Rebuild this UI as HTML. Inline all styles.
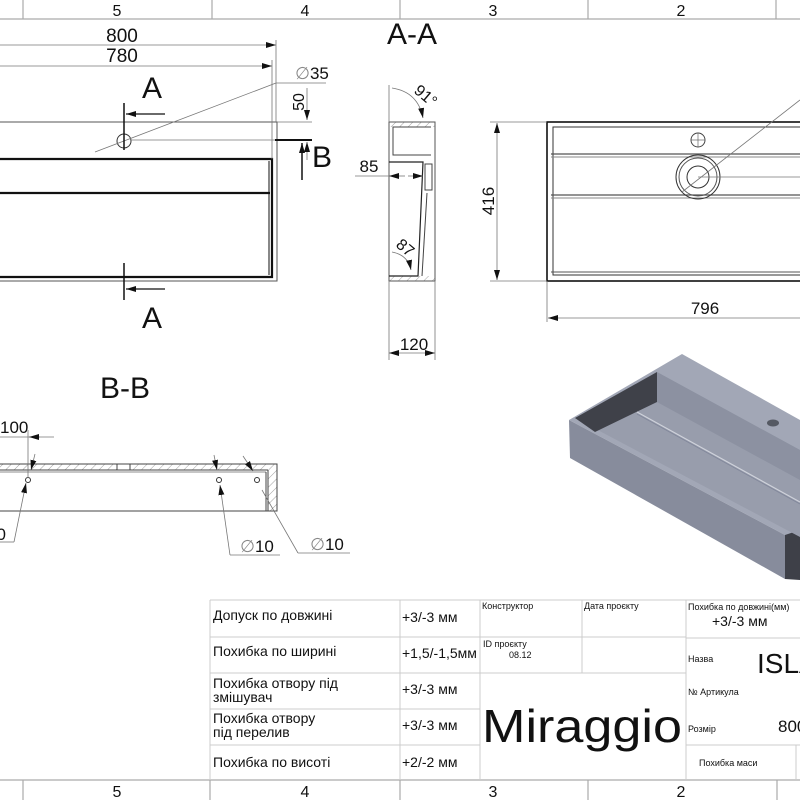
<!DOCTYPE html>
<html><head><meta charset="utf-8"><style>
html,body{margin:0;padding:0;background:#fff;}
svg{display:block;}
text{font-family:"Liberation Sans",sans-serif;fill:#111;}
.t{font-family:"Liberation Sans Narrow","Liberation Sans",sans-serif;}
</style></head><body>
<svg width="800" height="800" viewBox="0 0 800 800" xmlns="http://www.w3.org/2000/svg">
<defs>
<pattern id="h" width="6" height="6" patternUnits="userSpaceOnUse" patternTransform="rotate(45)">
<line x1="0" y1="0" x2="0" y2="6" stroke="#777" stroke-width="0.7"/></pattern>
<marker id="ar" markerWidth="10" markerHeight="6" refX="10" refY="3" orient="auto" markerUnits="userSpaceOnUse"><path d="M0,0 L10,3 L0,6 z" fill="#111"/></marker>
</defs>
<g stroke="#aaa" stroke-width="1.2" fill="none">
<line x1="0" y1="19" x2="800" y2="19"/>
<line x1="23" y1="0" x2="23" y2="19"/><line x1="212" y1="0" x2="212" y2="19"/>
<line x1="400" y1="0" x2="400" y2="19"/><line x1="588" y1="0" x2="588" y2="19"/><line x1="776" y1="0" x2="776" y2="19"/>
<line x1="0" y1="780" x2="800" y2="780"/>
<line x1="23" y1="780" x2="23" y2="800"/><line x1="210" y1="780" x2="210" y2="800"/>
<line x1="400" y1="780" x2="400" y2="800"/><line x1="588" y1="780" x2="588" y2="800"/><line x1="777" y1="780" x2="777" y2="800"/>
</g>
<g font-size="16" text-anchor="middle">
<text x="117" y="16">5</text><text x="305" y="16">4</text><text x="493" y="16">3</text><text x="681" y="16">2</text>
<text x="117" y="797">5</text><text x="305" y="797">4</text><text x="493" y="797">3</text><text x="681" y="797">2</text>
</g>

<g fill="none">
<rect x="-2" y="122" width="279" height="159" stroke="#555" stroke-width="1"/>
<path d="M0,159 H272 V277 H0" stroke="#111" stroke-width="2.2"/>
<line x1="0" y1="193" x2="270" y2="193" stroke="#111" stroke-width="2.2"/>
<line x1="269" y1="161" x2="269" y2="275" stroke="#111" stroke-width="1"/>
<circle cx="124" cy="141" r="7" stroke="#333" stroke-width="1"/>
<g stroke="#777" stroke-width="0.8">
<line x1="0" y1="45" x2="276" y2="45" marker-end="url(#ar)"/>
<line x1="0" y1="66" x2="272" y2="66" marker-end="url(#ar)"/>
<line x1="276" y1="40" x2="276" y2="122"/><line x1="272" y1="60" x2="272" y2="159"/>
<line x1="276" y1="83" x2="326" y2="83"/>
<line x1="276" y1="83" x2="95" y2="152"/>
<line x1="277" y1="122" x2="312" y2="122"/><line x1="131" y1="140" x2="277" y2="140"/>
<line x1="307" y1="88" x2="307" y2="120" marker-end="url(#ar)"/>
<line x1="307" y1="160" x2="307" y2="142" marker-end="url(#ar)"/>
</g>
<line x1="275" y1="140" x2="312" y2="140" stroke="#111" stroke-width="2"/>
<line x1="302" y1="180" x2="302" y2="143" stroke="#111" stroke-width="1.5" marker-end="url(#ar)"/>
<line x1="124" y1="103" x2="124" y2="150" stroke="#111" stroke-width="1.5"/>
<line x1="165" y1="114" x2="126" y2="114" stroke="#111" stroke-width="1.2" marker-end="url(#ar)"/>
<line x1="124" y1="263" x2="124" y2="300" stroke="#111" stroke-width="1.5"/>
<line x1="165" y1="289" x2="126" y2="289" stroke="#111" stroke-width="1.2" marker-end="url(#ar)"/>
</g>
<g font-size="19" text-anchor="middle">
<text x="122" y="42">800</text><text x="122" y="62">780</text>
<text x="312" y="79" font-size="17"><tspan fill="#888">∅</tspan>35</text>
<text x="0" y="0" font-size="16" transform="translate(304,102) rotate(-90)">50</text>
</g>
<text x="152" y="98" font-size="30" text-anchor="middle">A</text>
<text x="152" y="328" font-size="30" text-anchor="middle">A</text>
<text x="322" y="167" font-size="30" text-anchor="middle">B</text>

<text x="412" y="44" font-size="30" text-anchor="middle">A-A</text>
<g fill="none">
<rect x="389" y="122" width="46" height="5" fill="url(#h)" stroke="none"/>
<rect x="389" y="276" width="46" height="5" fill="url(#h)" stroke="none"/>
<rect x="389" y="122" width="46" height="159" stroke="#555" stroke-width="1"/>
<path d="M431,127 H393 V155 H431" stroke="#444" stroke-width="1"/>
<path d="M389,162 H423 L418,276 H389" stroke="#222" stroke-width="1.2"/>
<path d="M427,193 L422,276" stroke="#444" stroke-width="1"/>
<rect x="425" y="164" width="7" height="26" stroke="#444" stroke-width="1"/>
<g stroke="#777" stroke-width="0.8">
<line x1="389" y1="85" x2="389" y2="122"/><line x1="389" y1="281" x2="389" y2="360"/><line x1="435" y1="281" x2="435" y2="360"/>
<line x1="355" y1="176" x2="389" y2="176"/>
<line x1="405" y1="176" x2="389" y2="176" marker-end="url(#ar)"/>
<line x1="408" y1="176" x2="423" y2="176" marker-end="url(#ar)"/>
<line x1="412" y1="353" x2="389" y2="353" marker-end="url(#ar)"/>
<line x1="412" y1="353" x2="435" y2="353" marker-end="url(#ar)"/>
<path d="M392,88 Q418,92 423,118" marker-end="url(#ar)"/>
<path d="M392,252 Q408,255 411,270" marker-end="url(#ar)"/>
</g>
</g>
<text x="369" y="172" font-size="17" text-anchor="middle">85</text>
<text x="414" y="350" font-size="17" text-anchor="middle">120</text>
<text x="0" y="0" font-size="16" transform="translate(413,92) rotate(40)">91°</text>
<text x="0" y="0" font-size="16" transform="translate(395,246) rotate(40)">87</text>

<g fill="none">
<rect x="547" y="122" width="260" height="159" stroke="#111" stroke-width="1.6"/>
<path d="M810,127 H553 V275 H810" stroke="#333" stroke-width="1"/>
<line x1="551" y1="154" x2="800" y2="154" stroke="#555" stroke-width="1.2"/>
<line x1="551" y1="157" x2="800" y2="157" stroke="#888" stroke-width="1"/>
<line x1="551" y1="195" x2="800" y2="195" stroke="#555" stroke-width="1.2"/>
<line x1="551" y1="198" x2="800" y2="198" stroke="#888" stroke-width="1"/>
<line x1="551" y1="272" x2="800" y2="272" stroke="#555" stroke-width="1"/>
<circle cx="698" cy="140" r="7" stroke="#444"/>
<line x1="691" y1="140" x2="705" y2="140" stroke="#666" stroke-width="0.7"/><line x1="698" y1="133" x2="698" y2="147" stroke="#666" stroke-width="0.7"/>
<circle cx="698" cy="177" r="22" stroke="#333"/>
<circle cx="698" cy="177" r="19" stroke="#555"/>
<circle cx="698" cy="177" r="11" stroke="#333"/>
<g stroke="#777" stroke-width="0.8">
<line x1="490" y1="122" x2="547" y2="122"/><line x1="490" y1="281" x2="547" y2="281"/>
<line x1="497" y1="200" x2="497" y2="123" marker-end="url(#ar)"/>
<line x1="497" y1="200" x2="497" y2="280" marker-end="url(#ar)"/>
<line x1="547" y1="281" x2="547" y2="322"/>
<line x1="700" y1="318" x2="548" y2="318" marker-end="url(#ar)"/><line x1="700" y1="318" x2="800" y2="318"/>
<line x1="682" y1="192" x2="800" y2="100"/>
<line x1="698" y1="177" x2="800" y2="177"/>
</g>
</g>
<text x="0" y="0" font-size="17" text-anchor="middle" transform="translate(494,201) rotate(-90)">416</text>
<text x="705" y="314" font-size="17" text-anchor="middle">796</text>

<text x="125" y="398" font-size="30" text-anchor="middle">B-B</text>
<g fill="none">
<rect x="0" y="464" width="117" height="6" fill="url(#h)"/>
<rect x="130" y="464" width="147" height="6" fill="url(#h)"/>
<rect x="268" y="470" width="9" height="41" fill="url(#h)"/>
<path d="M-2,464 H277 V511 H-2" stroke="#444" stroke-width="1"/>
<line x1="0" y1="470" x2="268" y2="470" stroke="#444" stroke-width="1"/>
<line x1="0" y1="472" x2="266" y2="472" stroke="#666" stroke-width="0.8"/>
<path d="M268,470 V511 M266,472 V511" stroke="#444" stroke-width="1"/>
<line x1="117" y1="464" x2="117" y2="470" stroke="#444"/><line x1="130" y1="464" x2="130" y2="470" stroke="#444"/>
<circle cx="28" cy="480" r="2.5" stroke="#333"/>
<circle cx="219" cy="480" r="2.5" stroke="#333"/>
<circle cx="257" cy="480" r="2.5" stroke="#333"/>
<g stroke="#777" stroke-width="0.8">
<line x1="28" y1="430" x2="28" y2="478"/>
<line x1="0" y1="437" x2="54" y2="437"/>
<line x1="40" y1="437" x2="29" y2="437" marker-end="url(#ar)"/>
<line x1="35" y1="454" x2="31" y2="470" marker-end="url(#ar)"/>
<line x1="14" y1="542" x2="26" y2="483" marker-end="url(#ar)"/>
<line x1="0" y1="542" x2="14" y2="542"/>
<line x1="214" y1="455" x2="217" y2="470" marker-end="url(#ar)"/>
<line x1="230" y1="555" x2="220" y2="485" marker-end="url(#ar)"/>
<line x1="230" y1="555" x2="280" y2="555"/>
<line x1="243" y1="456" x2="253" y2="471" marker-end="url(#ar)"/>
<line x1="298" y1="553" x2="262" y2="490"/>
<line x1="298" y1="553" x2="350" y2="553"/>
</g>
</g>
<text x="0" y="433" font-size="17">100</text>
<text x="0" y="540" font-size="17" text-anchor="end" dx="6">0</text>
<text x="257" y="552" font-size="17" text-anchor="middle"><tspan fill="#888">∅</tspan>10</text>
<text x="327" y="550" font-size="17" text-anchor="middle"><tspan fill="#888">∅</tspan>10</text>

<!-- 3D -->
<g>
<polygon points="569,420 682,354 800,420 800,537 785,535" fill="#a2a7b6"/>
<polygon points="569,420 785,535 785,579 570,458" fill="#878c9c"/>
<polygon points="785,535 800,530 800,580 785,579" fill="#3e4048"/>
<polygon points="575,418 657,372 800,450 800,537" fill="#989dac"/>
<polygon points="657,372 800,450 800,480 657,402" fill="#8c91a1"/>
<polygon points="575,418 657,372 657,402 595,432" fill="#3f4149"/>
<line x1="637" y1="412" x2="800" y2="502" stroke="#cfd2db" stroke-width="1.2"/>
<line x1="637" y1="414" x2="800" y2="504" stroke="#80869a" stroke-width="0.8"/>
<ellipse cx="773" cy="423" rx="6" ry="3.5" fill="#555963"/>
</g>

<g stroke="#ccc" stroke-width="1" fill="none">
<line x1="210" y1="600" x2="800" y2="600"/>
<line x1="210" y1="637" x2="480" y2="637"/><line x1="210" y1="673" x2="480" y2="673"/>
<line x1="210" y1="709" x2="480" y2="709"/><line x1="210" y1="745" x2="480" y2="745"/>
<line x1="480" y1="637" x2="686" y2="637"/><line x1="480" y1="673" x2="686" y2="673"/>
<line x1="686" y1="638" x2="800" y2="638"/><line x1="686" y1="745" x2="800" y2="745"/>
<line x1="210" y1="600" x2="210" y2="780"/><line x1="400" y1="600" x2="400" y2="780"/>
<line x1="480" y1="600" x2="480" y2="780"/><line x1="582" y1="600" x2="582" y2="673"/>
<line x1="686" y1="600" x2="686" y2="780"/><line x1="796" y1="745" x2="796" y2="780"/>
</g>
<g class="t" font-size="14">
<text x="213" y="620">Допуск по довжині</text>
<text x="213" y="656">Похибка по ширині</text>
<text x="213" y="688">Похибка отвору під</text>
<text x="213" y="702">змішувач</text>
<text x="213" y="723">Похибка отвору</text>
<text x="213" y="737">під перелив</text>
<text x="213" y="767">Похибка по висоті</text>
<text x="402" y="622">+3/-3 мм</text>
<text x="402" y="658">+1,5/-1,5мм</text>
<text x="402" y="694">+3/-3 мм</text>
<text x="402" y="730">+3/-3 мм</text>
<text x="402" y="767">+2/-2 мм</text>
</g>
<g class="t" font-size="9">
<text x="482" y="609">Конструктор</text>
<text x="584" y="609">Дата проєкту</text>
<text x="483" y="647">ID проєкту</text>
<text x="509" y="658">08.12</text>
<text x="688" y="610">Похибка по довжині(мм)</text>
<text x="688" y="662">Назва</text>
<text x="688" y="695">№ Артикула</text>
<text x="688" y="732">Розмір</text>
<text x="699" y="766">Похибка маси</text>
</g>
<text class="t" x="712" y="626" font-size="14">+3/-3 мм</text>
<text class="t" x="757" y="673" font-size="28">ISLA</text>
<text class="t" x="778" y="732" font-size="17">800</text>
<text x="482" y="742" font-size="46" textLength="200" lengthAdjust="spacingAndGlyphs">Miraggio</text>
</svg>
</body></html>
